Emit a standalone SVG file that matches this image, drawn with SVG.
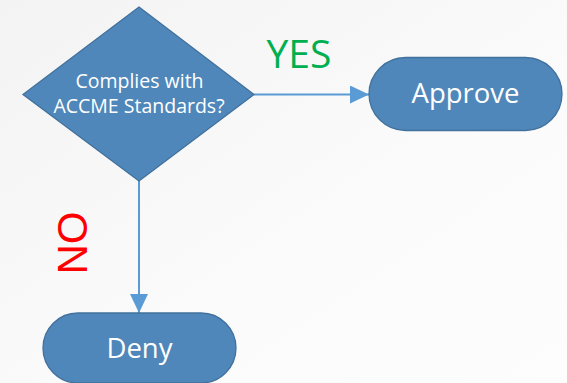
<svg xmlns="http://www.w3.org/2000/svg" width="567" height="383" viewBox="0 0 567 383">
  <defs>
    <linearGradient id="bg" x1="0" y1="0" x2="1" y2="1">
      <stop offset="0" stop-color="#f3f3f3"/>
      <stop offset="0.6" stop-color="#fbfbfb"/>
      <stop offset="1" stop-color="#fdfdfd"/>
    </linearGradient>
    <marker id="arrow" viewBox="0 0 19 18" refX="19" refY="9" markerWidth="19" markerHeight="18" markerUnits="userSpaceOnUse" orient="auto">
      <path d="M0,0 L19,9 L0,18 Z" fill="#5B9BD5"/>
    </marker>
  </defs>
  <style>
    .shape { fill: #4F87BA; stroke: #41719C; stroke-width: 1.3; }
    .label { font-family: "Open Sans", "Noto Sans", sans-serif; fill: #ffffff; text-anchor: middle; }
    .conn { stroke: #5B9BD5; stroke-width: 2; fill: none; }
  </style>
  <rect x="0" y="0" width="567" height="383" fill="url(#bg)"/>

  <g id="connectors">
    <line class="conn" x1="254" y1="94.5" x2="369" y2="94.5" marker-end="url(#arrow)"/>
    <line class="conn" x1="139" y1="181" x2="139" y2="313" marker-end="url(#arrow)"/>
    <text id="label-yes" x="299" y="68" font-family="'Open Sans', 'Noto Sans', sans-serif" font-size="39" fill="#00B050" text-anchor="middle">YES</text>
    <text id="label-no" transform="translate(87,243) rotate(-90)" font-family="'Liberation Sans', Arial, sans-serif" font-size="42" fill="#FF0000" text-anchor="middle">NO</text>
  </g>

  <g id="node-decision">
    <polygon class="shape" points="139,7 254,94.5 139,181 23,94.5"/>
    <text class="label" x="139.5" y="88" font-size="19.5">Complies with</text>
    <text class="label" x="139" y="113" font-size="19.5">ACCME Standards?</text>
  </g>

  <g id="node-approve">
    <rect class="shape" x="369" y="57.5" width="193" height="73" rx="36.5" ry="36.5"/>
    <text class="label" x="465.5" y="103" font-size="27.5">Approve</text>
  </g>

  <g id="node-deny">
    <rect class="shape" x="43" y="313" width="193" height="70" rx="35" ry="35"/>
    <text class="label" x="139.5" y="358" font-size="27.5">Deny</text>
  </g>
</svg>
